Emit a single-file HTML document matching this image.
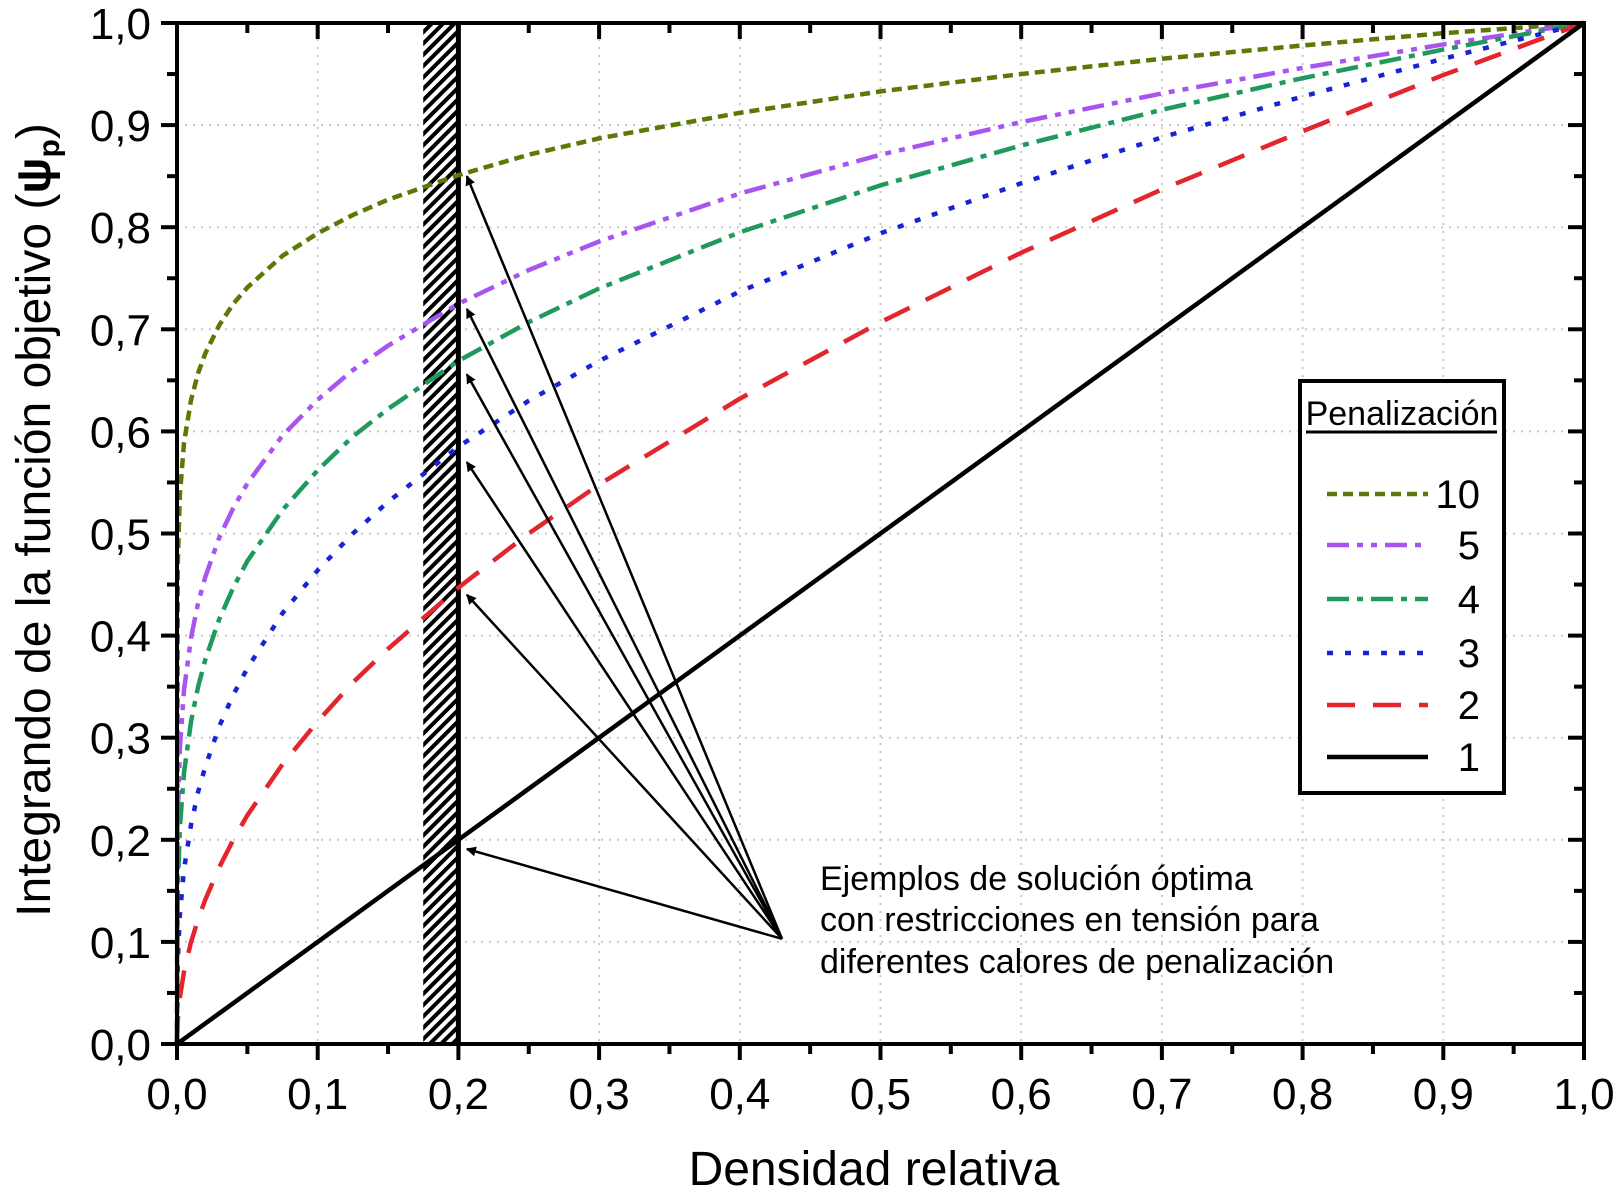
<!DOCTYPE html>
<html><head><meta charset="utf-8">
<style>
html,body{margin:0;padding:0;background:#fff;}
svg{display:block;font-family:"Liberation Sans",sans-serif;}
</style></head>
<body>
<svg id="chart" width="1618" height="1194" viewBox="0 0 1618 1194">
<defs>
<pattern id="hatch" patternUnits="userSpaceOnUse" width="8" height="8" patternTransform="rotate(45)">
<rect width="8" height="8" fill="#fff"/><rect width="4" height="8" fill="#000"/>
</pattern>
<marker id="arrowhead" markerWidth="10" markerHeight="10" refX="9" refY="5" orient="auto" markerUnits="userSpaceOnUse" viewBox="0 0 10 10">
<path d="M0,0 L10,5 L0,10 z" fill="#000"/>
</marker>
</defs>
<g id="grid"></g>
<g id="band"></g>
<g id="series"></g>
<g id="arrows"></g>
<g id="axes"></g>
<text x="820" y="890" font-size="34">Ejemplos de solución óptima</text>
<text x="820" y="931" font-size="34">con restricciones en tensión para</text>
<text x="820" y="973" font-size="34">diferentes calores de penalización</text>
<text x="874" y="1185" font-size="48" text-anchor="middle">Densidad relativa</text>
<text transform="translate(50,520) rotate(-90)" font-size="48" text-anchor="middle">Integrando de la función objetivo (<tspan font-weight="bold">ψ</tspan><tspan font-size="30" dy="9" font-weight="bold">p</tspan><tspan dy="-9">)</tspan></text>
<g id="legend"></g>
</svg>
<script>
const xs = [0,0.0005,0.002,0.005,0.01,0.015,0.02,0.03,0.04,0.05,0.075,0.1,0.125,0.15,0.2,0.25,0.3,0.4,0.5,0.6,0.7,0.8,0.9,1.0];
const p10 = [0,0.468,0.537,0.589,0.631,0.657,0.676,0.704,0.725,0.741,0.772,0.794,0.812,0.827,0.851,0.871,0.887,0.912,0.933,0.950,0.965,0.978,0.990,1];
const p5  = [0,0.218,0.289,0.347,0.398,0.432,0.457,0.496,0.525,0.549,0.596,0.631,0.660,0.684,0.725,0.758,0.786,0.833,0.871,0.903,0.931,0.956,0.979,1];
const p4  = [0,0.150,0.211,0.266,0.316,0.350,0.376,0.416,0.447,0.473,0.523,0.562,0.595,0.622,0.669,0.707,0.740,0.795,0.841,0.880,0.915,0.946,0.974,1];
const p3  = [0,0.079,0.126,0.171,0.215,0.247,0.271,0.311,0.342,0.368,0.422,0.464,0.500,0.531,0.585,0.630,0.669,0.737,0.794,0.843,0.888,0.928,0.965,1];
const p2  = [0,0.022,0.045,0.071,0.100,0.122,0.141,0.173,0.200,0.224,0.274,0.316,0.354,0.387,0.447,0.500,0.548,0.632,0.707,0.775,0.837,0.894,0.949,1];
const p1  = [0,0.0005,0.002,0.005,0.01,0.015,0.02,0.03,0.04,0.05,0.075,0.1,0.125,0.15,0.2,0.25,0.3,0.4,0.5,0.6,0.7,0.8,0.9,1.0];
const seriesNames = ["10","5","4","3","2","1"];
const tickValues = [0,0.1,0.2,0.3,0.4,0.5,0.6,0.7,0.8,0.9,1.0];
const tickLabels = ["0,0","0,1","0,2","0,3","0,4","0,5","0,6","0,7","0,8","0,9","1,0"];
const bandRange = [0.175,0.2];
const arrowOrigin = [0.43,0.103];
const arrowTipsX = [0.206,0.206,0.206,0.206,0.206,0.206];
const arrowTipsY = [0.191,0.44,0.57,0.656,0.72,0.85];

const L=177,R=1584,T=23,B=1044;
const sx=v=>L+v*(R-L), sy=v=>B-v*(B-T);
const NS="http://www.w3.org/2000/svg";
function mk(tag,attrs,parent){const e=document.createElementNS(NS,tag);for(const k in attrs)e.setAttribute(k,attrs[k]);parent.appendChild(e);return e;}
const grid=document.getElementById('grid'),axes=document.getElementById('axes'),ser=document.getElementById('series'),band=document.getElementById('band'),arr=document.getElementById('arrows'),leg=document.getElementById('legend');

tickValues.forEach((v,i)=>{
  if(i>0&&i<10){
    let g=mk('line',{x1:sx(v),x2:sx(v),y1:T,y2:B,stroke:'#c8c8c8','stroke-width':2,'stroke-dasharray':'2 6'},grid);
    
    
    let h=mk('line',{x1:L,x2:R,y1:sy(v),y2:sy(v),stroke:'#c8c8c8','stroke-width':2,'stroke-dasharray':'2 6'},grid);
    
    
  }
});

let br=mk('rect',{x:sx(bandRange[0]),y:T,width:sx(bandRange[1])-sx(bandRange[0]),height:B-T,fill:'url(#hatch)'},band);


let bl=mk('line',{x1:sx(bandRange[1]),x2:sx(bandRange[1]),y1:T,y2:B,stroke:'#000','stroke-width':5},band);



const styles=[
 {c:'#5b7a05',d:'10 6',data:p10},
 {c:'#a855f0',d:'22 8 6 8 6 8',data:p5},
 {c:'#1f9a5c',d:'22 8 6 8',data:p4},
 {c:'#1a22d8',d:'6 12',data:p3},
 {c:'#e3252c',d:'28 18',data:p2},
 {c:'#000',d:'',data:p1}
];
styles.forEach((s,i)=>{
  const pts=xs.map((x,j)=>sx(x)+','+sy(s.data[j])).join(' ');
  const a={points:pts,fill:'none',stroke:s.c,'stroke-width':4.5,'stroke-linejoin':'round'};
  if(s.d)a['stroke-dasharray']=s.d;
  let pl=mk('polyline',a,ser);
  
  
});

arrowTipsX.forEach((tx,i)=>{
  let a=mk('line',{x1:sx(arrowOrigin[0]),y1:sy(arrowOrigin[1]),x2:sx(tx),y2:sy(arrowTipsY[i]),stroke:'#000','stroke-width':2.5,'marker-end':'url(#arrowhead)'},arr);
  
  
});

let fr=mk('rect',{x:L,y:T,width:R-L,height:B-T,fill:'none',stroke:'#000','stroke-width':4},axes);


for(let k=0;k<=20;k++){
  const v=k/20, major=k%2===0, len=major?16:10;
  mk('line',{x1:sx(v),x2:sx(v),y1:B,y2:B+len,stroke:'#000','stroke-width':4},axes);
  mk('line',{x1:sx(v),x2:sx(v),y1:T,y2:T+len,stroke:'#000','stroke-width':4},axes);
  mk('line',{x1:L-len,x2:L,y1:sy(v),y2:sy(v),stroke:'#000','stroke-width':4},axes);
  mk('line',{x1:R-len,x2:R,y1:sy(v),y2:sy(v),stroke:'#000','stroke-width':4},axes);
}
tickValues.forEach((v,i)=>{
  let t=mk('text',{x:sx(v),y:1109,'font-size':44,'text-anchor':'middle'},axes);
  t.textContent=tickLabels[i];
  
  
  let u=mk('text',{x:151,y:sy(v)+16,'font-size':44,'text-anchor':'end'},axes);
  u.textContent=tickLabels[i];
  
  
});

let lb=mk('rect',{x:1300,y:381,width:204,height:412,fill:'#fff',stroke:'#000','stroke-width':4},leg);


let lt=mk('text',{x:1402,y:425,'font-size':34,'text-anchor':'middle'},leg);
lt.textContent='Penalización';


mk('line',{x1:1306,x2:1497,y1:432,y2:432,stroke:'#000','stroke-width':3},leg);
const ly=[494,545,599,653,705,757];
styles.forEach((s,i)=>{
  const a={x1:1327,x2:1428,y1:ly[i],y2:ly[i],stroke:s.c,'stroke-width':4.5};
  if(s.d)a['stroke-dasharray']=s.d;
  let l=mk('line',a,leg);
  
  
  let t=mk('text',{x:1480,y:ly[i]+14,'font-size':40,'text-anchor':'end'},leg);
  t.textContent=seriesNames[i];
  
  
});
</script>
</body></html>
